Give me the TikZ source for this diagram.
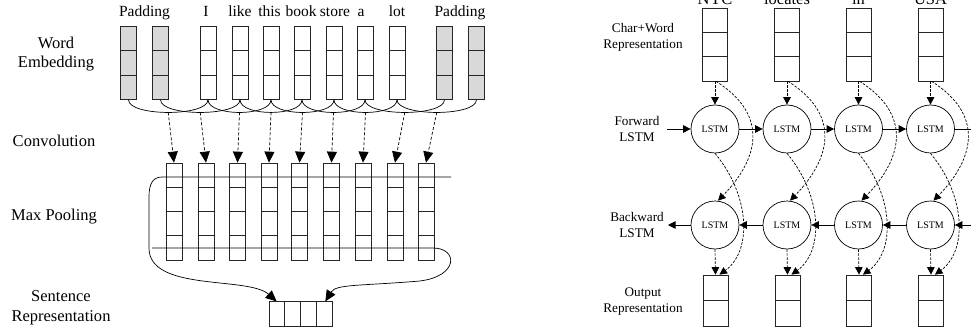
\documentclass[tikz,border=0pt]{standalone}
\usepackage{fontspec}
\setmainfont{Liberation Serif}
\usetikzlibrary{arrows.meta,calc}
\begin{document}
\begin{tikzpicture}[x=1pt,y=-1pt,
  lab/.style={font=\fontsize{16.5}{19.5}\selectfont, align=center, inner sep=0pt},
  slab/.style={font=\fontsize{13.2}{16}\selectfont, align=center, inner sep=0pt},
  word/.style={font=\fontsize{15.5}{19}\selectfont, inner sep=0pt, anchor=base},
  col/.style={draw=black!85, line width=0.7pt, inner sep=0pt},
  splitv/.style={path picture={\foreach \f in {#1}{\draw[black!85,line width=0.7pt] ($(path picture bounding box.north west)!\f!(path picture bounding box.south west)$) -- ($(path picture bounding box.north east)!\f!(path picture bounding box.south east)$);}}},
  splith/.style={path picture={\foreach \f in {#1}{\draw[black!85,line width=0.7pt] ($(path picture bounding box.north west)!\f!(path picture bounding box.north east)$) -- ($(path picture bounding box.south west)!\f!(path picture bounding box.south east)$);}}},
  lstm/.style={draw, circle, line width=0.7pt, minimum size=48pt, inner sep=0pt, font=\fontsize{10}{12}\selectfont},
  conn/.style={line width=0.7pt},
  bigtip/.style={-{Triangle[length=11pt,width=10pt]}},
  smalltip/.style={-{Triangle[length=7.5pt,width=7.5pt]}},
  dsh/.style={dash pattern=on 3pt off 2pt},
  sdsh/.style={dash pattern=on 2.5pt off 1.5pt}
]
\useasboundingbox (0,0) rectangle (971,331);

% ---------- left part ----------
\node[lab] (lwe) at (56,54) {Word\\Embedding};
\node[lab] (lcv) at (54,141) {Convolution};
\node[lab] (lmp) at (54,217) {Max Pooling};
\node[lab] (lsr) at (61,308) {Sentence\\Representation};

\foreach \x/\i/\c in {128.5/1/gray!30,160.5/2/gray!30,208/3/white,240/4/white,271/5/white,302/6/white,334/7/white,365/8/white,397/9/white,444.5/10/gray!30,476.5/11/gray!30}{
  \node[col, fill=\c, minimum width=16pt, minimum height=73.3pt, splitv={0.3333,0.6667}] (e\i) at (\x,62.7) {};
}
\node[word] (w1) at (144.5,17) {Padding};
\node[word] (w2) at (206,17) {I};
\node[word] (w3) at (240,17) {like};
\node[word] (w4) at (269.5,17) {this};
\node[word] (w5) at (301,17) {book};
\node[word] (w6) at (335,17) {store};
\node[word] (w7) at (361,17) {a};
\node[word] (w8) at (397,17) {lot};
\node[word] (w9) at (460,17) {Padding};

\foreach \x [count=\i] in {174,206,237.5,269,299.5,331.5,363,395,426}{
  \node[col, fill=white, minimum width=16pt, minimum height=97pt, splitv={0.25,0.5,0.75}] (c\i) at (\x,211.5) {};
}

\foreach \k in {1,...,9}{
  \pgfmathtruncatemacro\kk{\k+2}
  \draw[conn] (e\k.south) .. controls +(0,17) and +(0,17) .. (e\kk.south);
  \coordinate (m\k) at ($(e\k.south)!0.5!(e\kk.south)+(0,12.75)$);
  \draw[conn,dsh,bigtip] (m\k) -- (c\k.north);
}

\node[col, fill=white, minimum width=63pt, minimum height=24.5pt, splith={0.25,0.5,0.75}] (s) at (300.5,314) {};

\coordinate (pt) at (451,177);
\coordinate (pb) at (152,248);
\draw[conn,bigtip] (pt) -- (162,177) .. controls (152,177) and (149,185) .. (149,197) -- (149,248)
  .. controls (149,292) and (248,276) .. ($(s.north west)+(8,0)$);
\draw[conn,bigtip] (pb) -- (433,248) .. controls (458,248) and (459,276) .. (420,281)
  .. controls (360,286) and (336,284) .. ($(s.north east)+(-7,0)$);

% ---------- right part ----------
\node[slab] (rl1) at (643,37.5) {Char+Word\\Representation};
\node[slab] (rl2) at (637,129) {Forward\\LSTM};
\node[slab] (rl3) at (637,225) {Backward\\LSTM};
\node[slab] (rl4) at (643,301.5) {Output\\Representation};

\foreach \x/\i/\w in {715/1/NYC,787/2/locates,858.5/3/in,930.5/4/USA}{
  \node[word, font=\fontsize{16.5}{19}\selectfont] (t\i) at (\x,5) {\w};
  \node[col, fill=white, minimum width=25pt, minimum height=73pt, splitv={0.3333,0.6667}] (r\i) at (\x,44.5) {};
  \node[lstm] (f\i) at (\x,129) {LSTM};
  \node[lstm] (b\i) at (\x,225) {LSTM};
  \node[col, fill=white, minimum width=25pt, minimum height=51pt, splitv={0.5}] (o\i) at (\x+0.5,300.5) {};
}

\coordinate (fin) at (667,129);
\coordinate (fout) at (981,129);
\coordinate (bin) at (992,225);
\coordinate (bout) at (668,225);
\draw[conn,smalltip] (fin) -- (f1);
\draw[conn,smalltip] (f1) -- (f2);
\draw[conn,smalltip] (f2) -- (f3);
\draw[conn,smalltip] (f3) -- (f4);
\draw[conn,smalltip] (f4) -- (fout);
\draw[conn,smalltip] (bin) -- (b4);
\draw[conn,smalltip] (b4) -- (b3);
\draw[conn,smalltip] (b3) -- (b2);
\draw[conn,smalltip] (b2) -- (b1);
\draw[conn,smalltip] (b1) -- (bout);

\foreach \i in {1,...,4}{
  \draw[conn,sdsh,smalltip] (r\i.south) -- (f\i.north);
  \draw[conn,sdsh,smalltip] (b\i.south) -- (o\i.north);
  \draw[conn,sdsh,smalltip] ([xshift=1pt]r\i.south) .. controls +(54,34) and +(40,-41) .. ([xshift=3pt]b\i.north);
  \draw[conn,sdsh,smalltip] (f\i.south) .. controls +(35,42) and +(33,-24) .. ([xshift=4pt]o\i.north);
}
\end{tikzpicture}
\end{document}
